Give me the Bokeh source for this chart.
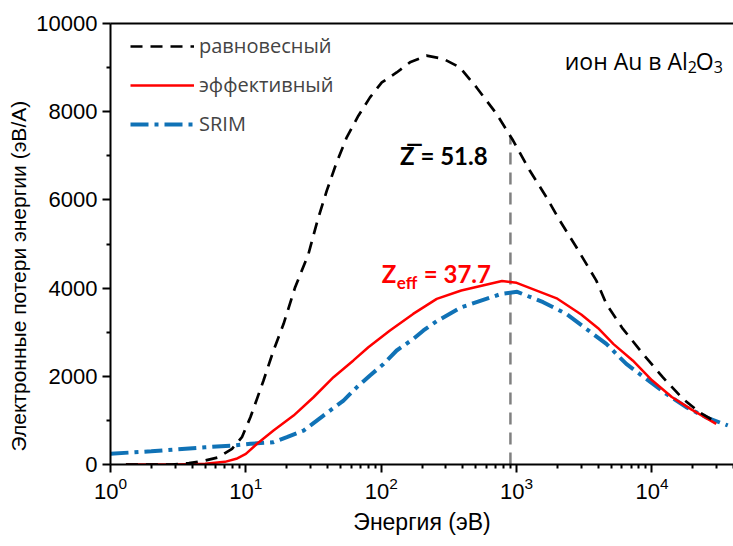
from bokeh.plotting import figure
from bokeh.models import Range1d, LogAxis, FixedTicker, Label, Legend, LegendItem
from bokeh.embed import file_html
from bokeh.resources import INLINE

# равновесный (equilibrium)
eq_E = [1.3, 2.85, 3.8, 5, 6.3, 7.9, 9.35, 10.8, 13.5, 16.0, 19.0, 23.0, 29, 33.8, 39.6,
        46.4, 55.6, 67.8, 82.6, 101, 130, 163, 216, 287, 381, 506, 711, 942, 1250,
        1660, 2085, 2765, 3880, 4600, 6100, 8570, 12000, 16900, 22400, 29800]
eq_S = [0, 0, 30, 90, 165, 355, 620, 1070, 1905, 2585, 3190, 4000, 4775, 5530, 6210,
        6815, 7420, 7910, 8325, 8665, 8890, 9120, 9270, 9200, 9005, 8550, 7950, 7345, 6665,
        6060, 5530, 4925, 4170, 3640, 3075, 2510, 1980, 1490, 1185, 960]

# эффективный (effective)
eff_E = [1.3, 3, 5, 7, 8.5, 10, 12.1, 16, 22.5, 31.6, 44.4, 62.3, 80.3, 116, 172, 257, 390,
         780, 1000, 2000, 3000, 4000, 5200, 7200, 10000, 14000, 19500, 29800]
eff_S = [0, 0, 15, 60, 130, 240, 470, 770, 1110, 1525, 1980, 2360, 2660, 3040, 3415, 3755, 3945,
         4160, 4120, 3760, 3400, 3090, 2730, 2360, 1910, 1530, 1250, 920]

# SRIM
srim_E = [1, 2, 3, 5, 8, 10.8, 16, 20.1, 26.7, 37.4, 52.6, 65.9, 82.6, 104, 130, 173, 205, 257,
          390, 772, 1010, 1570, 2330, 3270, 4600, 6460, 9070, 12740, 17900, 25100, 36300]
srim_S = [245, 300, 340, 390, 430, 470, 505, 620, 770, 1110, 1450, 1750, 2020, 2280, 2585, 2850, 3040, 3250,
          3565, 3870, 3915, 3680, 3415, 3075, 2735, 2280, 1940, 1600, 1300, 1070, 885]

# vertical marker at mean-charge energy
vline_x = [900, 900]
vline_y = [0, 7450]

x_major = [1, 10, 100, 1000, 10000]
x_minor = [m * 10 ** k for k in range(0, 5) for m in range(2, 10) if m * 10 ** k <= 40000]
y_major = [0, 2000, 4000, 6000, 8000, 10000]
y_minor = [1000, 3000, 5000, 7000, 9000]

labels = ["равновесный", "эффективный", "SRIM"]
x_title = "Энергия (эВ)"
y_title = "Электронные потери энергии (эВ/А)"

p = figure(width=733, height=546, x_axis_type="log",
           x_range=Range1d(1, 4e4), y_range=Range1d(0, 10000),
           output_backend="svg", toolbar_location=None,
           min_border_left=110, min_border_right=0, min_border_top=23, min_border_bottom=82)
p.outline_line_color = None
p.grid.visible = False
p.background_fill_color = "white"
p.border_fill_color = "white"

FONT_AX = "Liberation Sans"

for ax in (p.xaxis[0], p.yaxis[0]):
    ax.axis_line_width = 2
    ax.major_tick_line_width = 2
    ax.minor_tick_line_width = 2
    ax.major_tick_in = 0
    ax.major_tick_out = 8
    ax.minor_tick_in = 0
    ax.minor_tick_out = 4
    ax.major_label_text_font = FONT_AX
    ax.major_label_text_font_size = "22px"
    ax.major_label_text_color = "black"
    ax.axis_label_text_font = FONT_AX
    ax.axis_label_text_font_size = "23px"
    ax.axis_label_text_font_style = "normal"
    ax.axis_label_text_color = "black"

p.xaxis[0].ticker = FixedTicker(ticks=x_major, minor_ticks=x_minor)
p.yaxis[0].ticker = FixedTicker(ticks=y_major, minor_ticks=y_minor)
p.xaxis[0].axis_label = x_title
# trailing no-break spaces shift the visible title slightly below the frame centre, as in the reference
p.yaxis[0].axis_label = y_title + "\u00a0" * 11
p.yaxis[0].axis_label_text_font_size = "21px"
p.xaxis[0].major_label_standoff = 4
p.yaxis[0].major_label_standoff = 5
p.xaxis[0].axis_label_standoff = 7
p.yaxis[0].axis_label_standoff = 3

top = LogAxis(axis_line_width=2, major_tick_line_color=None, minor_tick_line_color=None,
              major_label_text_color=None)
p.add_layout(top, "above")

p.line(vline_x, vline_y, line_color="#808080", line_width=2.5, line_dash="12 8")
r_srim = p.line(srim_E, srim_S, line_color="#1072b6", line_width=4, line_dash="18 6 4 6")
r_eff = p.line(eff_E, eff_S, line_color="#ff0000", line_width=2.5)
r_eq = p.line(eq_E, eq_S, line_color="black", line_width=2.7, line_dash="12 8")

legend = Legend(items=[LegendItem(label=labels[0], renderers=[r_eq]),
                       LegendItem(label=labels[1], renderers=[r_eff]),
                       LegendItem(label=labels[2], renderers=[r_srim])],
                location=(20, 327), padding=0, margin=0, spacing=12,
                glyph_width=64, glyph_height=20, label_height=20, label_standoff=5,
                label_text_font="Open Sans", label_text_font_size="20px",
                background_fill_alpha=0, border_line_color=None)
p.add_layout(legend)

ANN = "Lato"
p.add_layout(Label(x=137.6, y=7005, text="Z\u0305 = 51.8", text_font=ANN, text_font_style="bold",
                   text_font_size="24px", text_color="black", text_baseline="alphabetic"))
p.add_layout(Label(x=100.9, y=4330, text="Z", text_font=ANN, text_font_style="bold",
                   text_font_size="24px", text_color="#ff0000", text_baseline="alphabetic"))
p.add_layout(Label(x=100.9, y=4330, x_offset=15, y_offset=-9, text="eff", text_font=ANN,
                   text_font_style="bold", text_font_size="17px", text_color="#ff0000",
                   text_baseline="alphabetic"))
p.add_layout(Label(x=100.9, y=4330, x_offset=42, text="= 37.7", text_font=ANN,
                   text_font_style="bold", text_font_size="24px", text_color="#ff0000",
                   text_baseline="alphabetic"))

# "ион Au в Al2O3" with real subscripts
ion_parts = [("ион Au в Al", 0, 0, "23px"), ("2", 123, -6, "16px"),
             ("O", 131, 0, "23px"), ("3", 149, -6, "16px")]
for txt, dx, dy, fs in ion_parts:
    p.add_layout(Label(x=2266, y=9159, x_offset=dx, y_offset=dy, text=txt, text_font="Open Sans",
                       text_font_size=fs, text_color="black", text_baseline="alphabetic"))

open("out.html", "w").write(file_html(p, INLINE))
